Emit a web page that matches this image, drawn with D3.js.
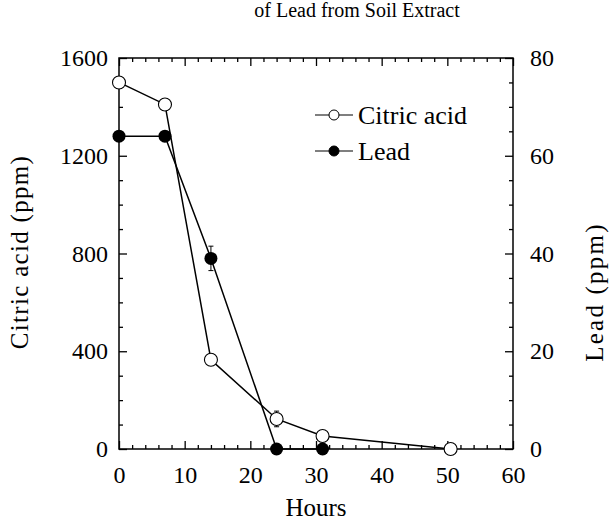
<!DOCTYPE html>
<html>
<head>
<meta charset="utf-8">
<script src="https://cdn.jsdelivr.net/npm/d3@7"></script>
<style>
	body { margin: 0; background: #fff; }
	svg { display: block; }
	text { font-family: "Liberation Serif", "Times New Roman", serif; fill: #000; }
</style>
</head>
<body>
<div class="chart"></div>
<script>
const width = 612;
const height = 523;

// data
const citricHours = [0, 7, 14, 24, 31, 50.5];
const citricPpm = [1500, 1410, 365, 123, 53, 0];
const citricErr = [0, 0, 0, 32, 0, 0];
const leadHours = [0, 7, 14, 24, 31];
const leadPpm = [64, 64, 39, 0, 0];
const leadErr = [0, 0, 2.5, 0, 0];

const xTicks = [0, 10, 20, 30, 40, 50, 60];
const yTicks = [0, 400, 800, 1200, 1600];
const y2Ticks = [0, 20, 40, 60, 80];
const seriesNames = ["Citric acid", "Lead"];
const titleLine = "of Lead from Soil Extract";

const plot = { left: 119, right: 513, top: 58, bottom: 449 };

const x = d3.scaleLinear().domain([0, 60]).range([plot.left, plot.right]);
const y = d3.scaleLinear().domain([0, 1600]).range([plot.bottom, plot.top]);
const y2 = d3.scaleLinear().domain([0, 80]).range([plot.bottom, plot.top]);

const svg = d3.select(".chart")
	.append("svg")
	.attr("width", width)
	.attr("height", height);

// cut-off title line at the top
svg.append("text")
	.attr("x", 357)
	.attr("y", 17)
	.attr("text-anchor", "middle")
	.style("font-size", "20px")
	.text(titleLine);

// ticks (all pointing inward)
const axisStyle = (g) => {
	g.select(".domain").remove();
	g.selectAll("line").attr("stroke", "#000").attr("stroke-width", 1.3);
	g.selectAll("text").style("font-size", "24px");
};

const minorX = d3.range(0, 61, 2).filter((v) => v % 10 !== 0);
const minorY = d3.range(0, 1601, 100).filter((v) => v % 400 !== 0);
const minorY2 = d3.range(0, 81, 5).filter((v) => v % 20 !== 0);

// bottom
svg.append("g")
	.attr("transform", `translate(0,${plot.bottom})`)
	.call(d3.axisBottom(x).tickValues(xTicks).tickSize(-8).tickPadding(17).tickFormat(d3.format("d")))
	.call(axisStyle);
svg.append("g")
	.attr("transform", `translate(0,${plot.bottom})`)
	.call(d3.axisBottom(x).tickValues(minorX).tickSize(-4).tickFormat(""))
	.call(axisStyle);
// top
svg.append("g")
	.attr("transform", `translate(0,${plot.top})`)
	.call(d3.axisTop(x).tickValues(xTicks).tickSize(-8).tickFormat(""))
	.call(axisStyle);
svg.append("g")
	.attr("transform", `translate(0,${plot.top})`)
	.call(d3.axisTop(x).tickValues(minorX).tickSize(-4).tickFormat(""))
	.call(axisStyle);
// left
svg.append("g")
	.attr("transform", `translate(${plot.left},0)`)
	.call(d3.axisLeft(y).tickValues(yTicks).tickSize(-8).tickPadding(11).tickFormat(d3.format("d")))
	.call(axisStyle);
svg.append("g")
	.attr("transform", `translate(${plot.left},0)`)
	.call(d3.axisLeft(y).tickValues(minorY).tickSize(-4).tickFormat(""))
	.call(axisStyle);
// right
svg.append("g")
	.attr("transform", `translate(${plot.right},0)`)
	.call(d3.axisRight(y2).tickValues(y2Ticks).tickSize(-8).tickPadding(17).tickFormat(d3.format("d")))
	.call(axisStyle);
svg.append("g")
	.attr("transform", `translate(${plot.right},0)`)
	.call(d3.axisRight(y2).tickValues(minorY2).tickSize(-4).tickFormat(""))
	.call(axisStyle);

// frame
svg.append("rect")
	.attr("x", plot.left)
	.attr("y", plot.top)
	.attr("width", plot.right - plot.left)
	.attr("height", plot.bottom - plot.top)
	.attr("fill", "none")
	.attr("stroke", "#000")
	.attr("stroke-width", 1.5);

// axis titles
svg.append("text")
	.attr("x", (plot.left + plot.right) / 2)
	.attr("y", 516)
	.attr("text-anchor", "middle")
	.style("font-size", "25px")
	.text("Hours");

svg.append("text")
	.attr("transform", "translate(28,252) rotate(-90)")
	.attr("text-anchor", "middle")
	.style("font-size", "25px")
	.style("letter-spacing", "1.3px")
	.text("Citric acid (ppm)");

svg.append("text")
	.attr("transform", "translate(603,292) rotate(-90)")
	.attr("text-anchor", "middle")
	.style("font-size", "25px")
	.style("letter-spacing", "2.2px")
	.text("Lead (ppm)");

// series
const citric = citricHours.map((h, i) => ({ h: h, v: citricPpm[i], e: citricErr[i] }));
const lead = leadHours.map((h, i) => ({ h: h, v: leadPpm[i], e: leadErr[i] }));

const citricLine = d3.line().x((d) => x(d.h)).y((d) => y(d.v));
const leadLine = d3.line().x((d) => x(d.h)).y((d) => y2(d.v));

svg.append("path")
	.attr("d", citricLine(citric))
	.attr("fill", "none")
	.attr("stroke", "#000")
	.attr("stroke-width", 1.5);
svg.append("path")
	.attr("d", leadLine(lead))
	.attr("fill", "none")
	.attr("stroke", "#000")
	.attr("stroke-width", 1.5);

// error bars
const errBars = (data, scale) => {
	const g = svg.append("g").attr("stroke", "#000").attr("stroke-width", 1);
	data.filter((d) => d.e > 0).forEach((d) => {
		const cx = x(d.h);
		const top = scale(d.v + d.e);
		const bot = scale(d.v - d.e);
		g.append("line").attr("x1", cx).attr("x2", cx).attr("y1", top).attr("y2", bot);
		g.append("line").attr("x1", cx - 2.5).attr("x2", cx + 2.5).attr("y1", top).attr("y2", top);
		g.append("line").attr("x1", cx - 2.5).attr("x2", cx + 2.5).attr("y1", bot).attr("y2", bot);
	});
};
errBars(citric, y);
errBars(lead, y2);

svg.append("g")
	.selectAll("circle")
	.data(citric)
	.enter()
	.append("circle")
		.attr("cx", (d) => x(d.h))
		.attr("cy", (d) => y(d.v))
		.attr("r", 6.5)
		.attr("fill", "#fff")
		.attr("stroke", "#000")
		.attr("stroke-width", 1.1);

svg.append("g")
	.selectAll("circle")
	.data(lead)
	.enter()
	.append("circle")
		.attr("cx", (d) => x(d.h))
		.attr("cy", (d) => y2(d.v))
		.attr("r", 6.5)
		.attr("fill", "#000");

// legend
const legend = svg.append("g")
	.selectAll("g")
	.data(seriesNames)
	.enter()
	.append("g")
		.attr("transform", (d, i) => `translate(315,${115 + i * 36})`);
legend.append("line")
	.attr("x1", 0).attr("x2", 38)
	.attr("stroke", "#000")
	.attr("stroke-width", 1.2);
legend.append("circle")
	.attr("cx", 19)
	.attr("r", 5)
	.attr("fill", (d, i) => i === 0 ? "#fff" : "#000")
	.attr("stroke", "#000")
	.attr("stroke-width", 1);
legend.append("text")
	.attr("x", 43)
	.attr("dy", "0.35em")
	.style("font-size", "26px")
	.text((d) => d);
</script>
</body>
</html>
